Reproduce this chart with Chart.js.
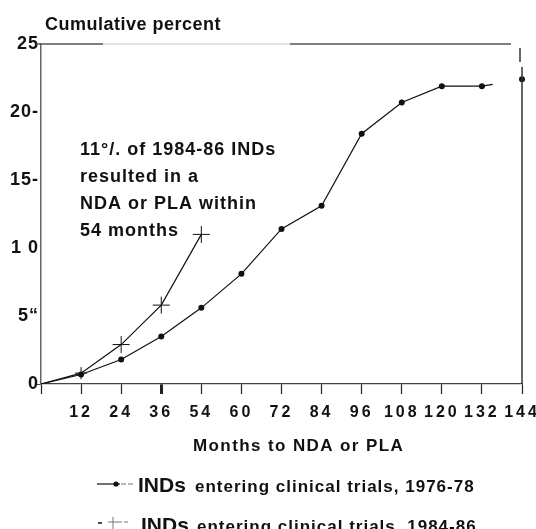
<!DOCTYPE html>
<html>
<head>
<meta charset="utf-8">
<script src="https://cdn.jsdelivr.net/npm/chart.js@4.4.1/dist/chart.umd.min.js"></script>
<style>
  html, body { margin: 0; padding: 0; background: #fff; }
</style>
</head>
<body>
<canvas id="chart" width="536" height="529"></canvas>
<script>
//DATA
const months = ['0', '12', '24', '36', '54', '60', '72', '84', '96', '108', '120', '132', '144'];
const ind7678 = [0, 0.7, 1.8, 3.5, 5.6, 8.1, 11.4, 13.1, 18.4, 20.7, 21.9, 21.9, 22.4];
const ind8486 = [0, 0.8, 2.9, 5.8, 11];
const yTickLabels = ['0', '5“', '1 0', '15-', '20-', '25'];
const seriesNames = ['INDs entering clinical trials, 1976-78', 'INDs entering clinical trials, 1984-86'];
const noteLines = ['11°/. of 1984-86 INDs', 'resulted in a', 'NDA or PLA within', '54 months'];
const yTitle = 'Cumulative percent';
const xTitle = 'Months to NDA or PLA';

const FONT = "'Liberation Sans', Arial, sans-serif";

// tick labels in this figure are typed with wide letter spacing
function spaceLabels(scale, gap) {
    if (scale._spaced) return;
    const draw = scale.drawLabels;
    scale.drawLabels = function (area) {
        this.ctx.save();
        this.ctx.letterSpacing = gap;
        draw.call(this, area);
        this.ctx.restore();
    };
    scale._spaced = true;
}

function text(ctx, str, x, y, size, gap) {
    ctx.font = 'bold ' + size + 'px ' + FONT;
    ctx.letterSpacing = gap || '0px';
    ctx.fillText(str, x, y);
}

function line(ctx, pts, dash, width, color) {
    ctx.beginPath();
    ctx.setLineDash(dash || []);
    ctx.lineWidth = width || 1;
    ctx.strokeStyle = color || '#111';
    ctx.moveTo(pts[0], pts[1]);
    ctx.lineTo(pts[2], pts[3]);
    ctx.stroke();
    ctx.setLineDash([]);
}

const decor = {
    id: 'decor',
    beforeDraw(chart) {
        spaceLabels(chart.scales.x, '3px');
        spaceLabels(chart.scales.y, '1px');
    },
    afterDraw(chart) {
        const ctx = chart.ctx;
        const a = chart.chartArea;
        ctx.save();
        ctx.fillStyle = '#111';
        ctx.textAlign = 'left';
        ctx.textBaseline = 'alphabetic';

        // frame: top rule and broken right edge
        line(ctx, [a.left - 5, a.top, a.left + 62, a.top], null, 1.3, '#555');
        line(ctx, [a.left + 62, a.top, a.left + 249, a.top], null, 1, '#c8c8c8');
        line(ctx, [a.left + 249, a.top, a.right - 11, a.top], null, 1.3, '#555');
        line(ctx, [a.right, a.top + 23, a.right, a.bottom], null, 1.5, '#333');
        line(ctx, [a.right - 2, a.top + 4, a.right - 2, a.top + 18], null, 1.5, '#333');

        // y title
        text(ctx, yTitle, 45, 30, 18, '0.5px');

        // note
        noteLines.forEach((s, i) => text(ctx, s, 80, 155 + i * 27, 18, '1px'));

        // x title
        text(ctx, xTitle, 193, 451, 17, '1.4px');

        // legend
        line(ctx, [97, 484, 120, 484], null, 1.2);
        ctx.beginPath();
        ctx.arc(116, 484, 2.6, 0, Math.PI * 2);
        ctx.fill();
        line(ctx, [121, 484, 134, 484], [5, 2], 1, '#777');
        line(ctx, [98, 523, 102, 523], null, 1.5);
        line(ctx, [113, 517, 113, 529], null, 1, '#777');
        line(ctx, [108, 522, 118, 522], null, 1, '#777');
        line(ctx, [118, 522, 130, 522], [4, 2], 1, '#777');

        const rows = [[138, 195, 492], [141, 197, 532]];
        seriesNames.forEach((name, i) => {
            const sp = name.indexOf(' ');
            text(ctx, name.slice(0, sp), rows[i][0], rows[i][2], 21, '0px');
            text(ctx, name.slice(sp + 1), rows[i][1], rows[i][2], 17, '1px');
        });
        ctx.restore();
    }
};

//CONFIG
const data = {
    labels: months,
    datasets: [{
        label: seriesNames[0],
        data: ind7678,
        borderColor: '#111',
        borderWidth: 1.2,
        backgroundColor: '#111',
        pointStyle: 'circle',
        pointRadius: ind7678.map((v, i) => i === 0 ? 0 : 3),
        pointBorderWidth: 0,
        tension: 0,
        segment: {
            borderDash: c => c.p1DataIndex === ind7678.length - 1 ? [11, 40] : undefined
        }
    }, {
        label: seriesNames[1],
        data: ind8486,
        borderColor: '#111',
        borderWidth: 1.2,
        pointStyle: 'cross',
        pointRadius: ind8486.map((v, i) => i === 0 ? 0 : (i === 1 ? 6 : 8.5)),
        pointBorderWidth: 1,
        tension: 0
    }]
};

const config = {
    type: 'line',
    data: data,
    options: {
        responsive: false,
        animation: false,
        layout: { padding: { top: 44, right: 14, bottom: 105, left: 0 } },
        plugins: {
            legend: { display: false },
            tooltip: { enabled: false }
        },
        scales: {
            x: {
                type: 'category',
                offset: false,
                grid: {
                    drawOnChartArea: false,
                    tickLength: 10,
                    tickColor: '#222',
                    tickWidth: c => c.index === 3 ? 3 : 1.2
                },
                border: { color: '#444', width: 1.3 },
                ticks: {
                    autoSkip: false,
                    maxRotation: 0,
                    padding: 9,
                    color: '#111',
                    font: { family: FONT, size: 16, weight: 'bold' },
                    callback: (v, i) => i === 0 ? '' : months[i]
                },
                afterFit: s => { s.height = 40; s.paddingLeft = 0; s.paddingRight = 0; }
            },
            y: {
                min: 0,
                max: 25,
                grid: {
                    drawOnChartArea: false,
                    tickLength: 4,
                    tickColor: c => c.tick && c.tick.value === 0 ? '#444' : 'rgba(0,0,0,0)'
                },
                border: { color: '#666', width: 1.5 },
                ticks: {
                    stepSize: 5,
                    padding: -2,
                    color: '#111',
                    font: { family: FONT, size: 18, weight: 'bold' },
                    callback: v => yTickLabels[v / 5]
                },
                afterFit: s => { s.width = 41; s.paddingTop = 0; s.paddingBottom = 0; }
            }
        }
    },
    plugins: [decor]
};

//RENDER
const myChart = new Chart(document.getElementById('chart'), config);
</script>
</body>
</html>
